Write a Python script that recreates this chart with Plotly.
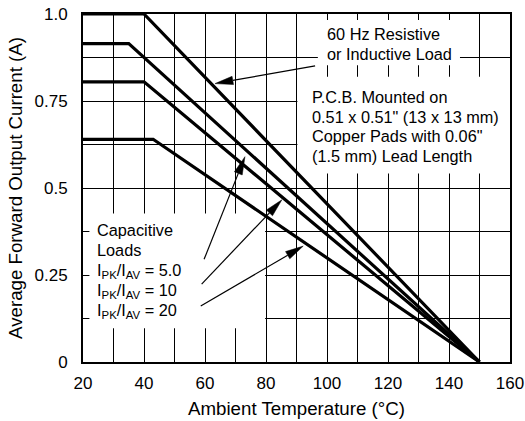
import math
import plotly.graph_objects as go

# ---- data ----
res_x = [20, 40, 150]
res_y = [1.0, 1.0, 0.0]
c5_x = [20, 35, 150]
c5_y = [0.915, 0.915, 0.0]
c10_x = [20, 40, 150]
c10_y = [0.805, 0.805, 0.0]
c20_x = [20, 43, 150]
c20_y = [0.64, 0.64, 0.0]

x_tickvals = list(range(20, 161, 10))
x_ticktext = ["20", "", "40", "", "60", "", "80", "", "100", "", "120", "", "140", "", "160"]
y_tickvals = [0, 0.125, 0.25, 0.375, 0.5, 0.625, 0.75, 0.875, 1.0]
y_ticktext = ["0", "", "0.25", "", "0.5", "", "0.75", "", "1.0"]

lines_a = ["60 Hz Resistive", "or Inductive Load"]
lines_b = ["P.C.B. Mounted on", "0.51 x 0.51\" (13 x 13 mm)",
           "Copper Pads with 0.06\"", "(1.5 mm) Lead Length"]
lines_c = ["Capacitive", "Loads",
           "I<sub>PK</sub>/I<sub>AV</sub> = 5.0",
           "I<sub>PK</sub>/I<sub>AV</sub> = 10",
           "I<sub>PK</sub>/I<sub>AV</sub> = 20"]

# arrows: (head_x, head_y, tail_x, tail_y)
arrows = [
    (63.3, 0.80, 96.1, 0.851),
    (73.1, 0.59, 59.7, 0.295),
    (85.2, 0.466, 58.9, 0.224),
    (92.2, 0.333, 58.6, 0.161),
]

# plot-area scale (px per data unit), used only to shape arrowheads
W_PX, H_PX = 427.0, 348.0
SX, SY = W_PX / 140.0, H_PX / 1.0
HEAD_LEN, HEAD_HALF = 18.0, 4.2

fig = go.Figure()
for xs, ys in [(res_x, res_y), (c5_x, c5_y), (c10_x, c10_y), (c20_x, c20_y)]:
    fig.add_trace(go.Scatter(x=xs, y=ys, mode="lines",
                             line=dict(color="black", width=3.2),
                             showlegend=False, hoverinfo="skip"))

for hx, hy, tx, ty in arrows:
    dxp, dyp = (hx - tx) * SX, (hy - ty) * SY
    L = math.hypot(dxp, dyp)
    ux, uy = dxp / L, dyp / L
    nx, ny = -uy, ux
    bx, by = hx * SX - ux * HEAD_LEN, hy * SY - uy * HEAD_LEN
    # shaft
    fig.add_trace(go.Scatter(x=[tx, bx / SX], y=[ty, by / SY], mode="lines",
                             line=dict(color="black", width=1.2),
                             showlegend=False, hoverinfo="skip"))
    # head
    px_ = [hx * SX, bx + nx * HEAD_HALF, bx - nx * HEAD_HALF, hx * SX]
    py_ = [hy * SY, by + ny * HEAD_HALF, by - ny * HEAD_HALF, hy * SY]
    fig.add_trace(go.Scatter(x=[p / SX for p in px_], y=[p / SY for p in py_],
                             mode="lines", fill="toself", fillcolor="black",
                             line=dict(color="black", width=0.5),
                             showlegend=False, hoverinfo="skip"))

shapes = [
    dict(type="rect", xref="x", yref="y", x0=97.0, x1=143.6, y0=0.853, y1=0.983,
         fillcolor="white", line=dict(width=0), layer="between"),
    dict(type="rect", xref="x", yref="y", x0=90.3, x1=160, y0=0.542, y1=0.82,
         fillcolor="white", line=dict(width=0), layer="between"),
    dict(type="rect", xref="x", yref="y", x0=22.1, x1=79.7, y0=0.097, y1=0.427,
         fillcolor="white", line=dict(width=0), layer="between"),
]

family = "Liberation Sans, Arial, sans-serif"
fnt = dict(family=family, size=16.3, color="black")
tick_fnt = dict(family=family, size=17, color="black")
title_fnt = dict(family=family, size=18.7, color="black")

annotations = []
y_of = lambda px: (362 - px) / 348.0
for i, t in enumerate(lines_a):
    annotations.append(dict(x=99.3, y=y_of(34 + 19.5 * i), xref="x", yref="y", text=t,
                            showarrow=False, xanchor="left", yanchor="middle", font=fnt))
for i, t in enumerate(lines_b):
    annotations.append(dict(x=94.4, y=y_of(97 + 19.5 * i), xref="x", yref="y", text=t,
                            showarrow=False, xanchor="left", yanchor="middle", font=fnt))
for i, t in enumerate(lines_c):
    annotations.append(dict(x=23.9, y=y_of(230 + 20.3 * i), xref="x", yref="y", text=t,
                            showarrow=False, xanchor="left", yanchor="middle", font=fnt))

axis_common = dict(showgrid=True, gridcolor="black", gridwidth=1,
                   showline=True, linecolor="black", linewidth=2, mirror=True,
                   zeroline=False, ticks="outside",
                   tickcolor="rgba(0,0,0,0)", tickfont=tick_fnt, automargin=False)

fig.update_layout(
    width=525, height=421,
    margin=dict(l=83, r=15, t=14, b=59),
    plot_bgcolor="white", paper_bgcolor="white",
    xaxis=dict(range=[20, 160], tickvals=x_tickvals, ticktext=x_ticktext, ticklen=5,
               title=dict(text="Ambient Temperature (°C)", font=title_fnt, standoff=10),
               **axis_common),
    yaxis=dict(range=[0, 1.0], tickvals=y_tickvals, ticktext=y_ticktext, ticklen=10,
               title=dict(text="Average Forward Output Current (A)", font=title_fnt, standoff=7),
               **axis_common),
    shapes=shapes,
    annotations=annotations,
    font=fnt,
)

fig.write_html("out.html", config={"displayModeBar": False},
               post_script="document.body.style.margin='0';")
